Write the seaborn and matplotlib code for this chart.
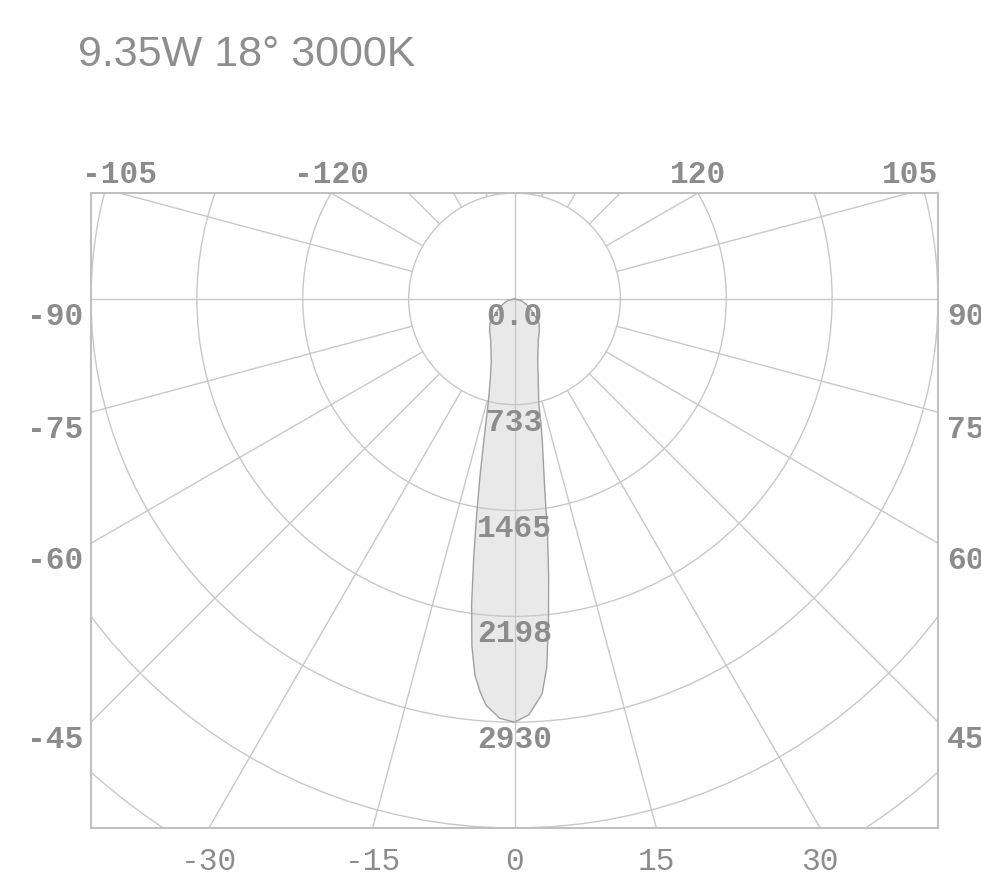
import numpy as np
import pandas as pd
import seaborn as sns
import matplotlib.pyplot as plt
from matplotlib.patches import Circle

# light distribution, candela vs angle from nadir (deg)
angles = [0, 2, 4, 5, 6, 7, 8, 9, 10, 11, 12, 13, 14, 15, 17, 20, 25, 30, 38, 45, 55, 65, 75, 90]
left_cd = [2930, 2905, 2820, 2730, 2620, 2420, 2130, 1800, 1500, 1250, 1040, 880, 760, 680, 570, 470, 385, 330, 280, 240, 150, 90, 50, 0]
right_cd = [2930, 2880, 2740, 2560, 2250, 1940, 1640, 1340, 1150, 1010, 880, 750, 690, 640, 560, 470, 385, 330, 280, 240, 150, 90, 50, 0]

ring_labels = ["0.0", "733", "1465", "2198", "2930"]
ring_step = 732.5
bottom_labels = [-30, -15, 0, 15, 30]
left_labels = [-45, -60, -75, -90]
right_labels = [45, 60, 75, 90]
top_labels = [-105, -120, 120, 105]
title = "9.35W 18° 3000K"

sns.set_style("white")
plt.rcParams['font.family'] = ['Liberation Mono', 'DejaVu Sans']

grid_c = '#c8c8c8'
txt_c = '#8c8c8c'

fig = plt.figure(figsize=(9.81, 8.84), dpi=100)
ax = fig.add_axes([91/981, (884-828)/884, 847/981, 635/884])

x0, x1 = -4*ring_step, 4*ring_step
y0, y1 = -5*ring_step, ring_step

# curve: left half from 90 deg down to 0, then right half back up
th_l = np.radians(angles[::-1])
r_l = np.array(left_cd[::-1])
th_r = np.radians(angles)
r_r = np.array(right_cd)
curve = pd.DataFrame({
    'x': np.concatenate([-r_l*np.sin(th_l), r_r*np.sin(th_r)]),
    'y': np.concatenate([-r_l*np.cos(th_l), -r_r*np.cos(th_r)]),
})
ax.fill(curve['x'], curve['y'], color='#e9e9e9', zorder=1, lw=0)
sns.lineplot(data=curve, x='x', y='y', sort=False, estimator=None, ax=ax,
             color='#a0a0a0', lw=1.0, zorder=3)

# rings
for k in range(1, 7):
    ax.add_patch(Circle((0, 0), k*ring_step, fill=False, ec=grid_c, lw=1.0, zorder=2))

# radial lines
for a in range(0, 360, 15):
    if a % 90 == 0:
        continue
    t = np.radians(a)
    ax.plot([ring_step*np.sin(t), 9000*np.sin(t)], [-ring_step*np.cos(t), -9000*np.cos(t)],
            color=grid_c, lw=1.0, zorder=2)
ax.axhline(0, color=grid_c, lw=1.0, zorder=2)
ax.axvline(0, color=grid_c, lw=1.0, zorder=2)


def hit(a):
    t = np.radians(a)
    dx, dy = np.sin(t), -np.cos(t)
    ts = []
    if dx > 1e-9: ts.append(x1/dx)
    if dx < -1e-9: ts.append(x0/dx)
    if dy > 1e-9: ts.append(y1/dy)
    if dy < -1e-9: ts.append(y0/dy)
    s = min(ts)
    return s*dx, s*dy


lab = dict(color=txt_c, fontsize=22.5, textcoords='offset points', annotation_clip=False, zorder=5)
for a in bottom_labels:
    ax.annotate(str(a), hit(a), xytext=(0, -24.5), ha='center', va='center', **lab)
for a in left_labels:
    ax.annotate(str(a), hit(a), xytext=(-5.5, -13), ha='right', va='center', fontweight='bold', **lab)
for a in right_labels:
    ax.annotate(str(a), hit(a), xytext=(6.5, -13), ha='left', va='center', fontweight='bold', **lab)
for a in top_labels:
    ax.annotate(str(a), hit(a), xytext=(0, 13), ha='center', va='center', fontweight='bold', **lab)
for k, s in enumerate(ring_labels):
    ax.annotate(s, (0, -k*ring_step), xytext=(0, -13), ha='center', va='center', fontweight='bold', **lab)

ax.set_xlim(x0, x1)
ax.set_ylim(y0, y1)
ax.set_xticks([])
ax.set_yticks([])
ax.set_xlabel('')
ax.set_ylabel('')
for sp in ax.spines.values():
    sp.set_color('#c0c0c0')
    sp.set_linewidth(1.5)

fig.text(78/981, (884-55)/884, title, family='Liberation Sans', fontsize=31,
         color='#8e8e8e', ha='left', va='center')

fig.savefig('out.png', dpi=100, facecolor='white')
